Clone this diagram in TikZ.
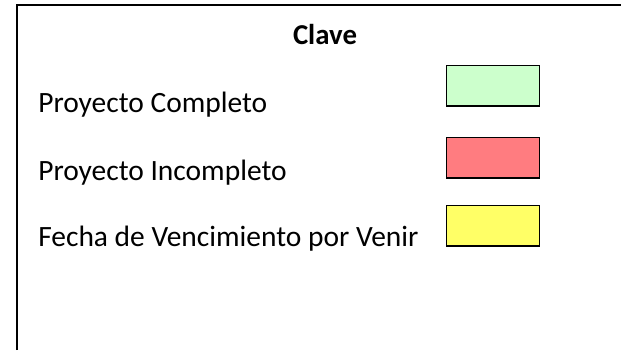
\documentclass[tikz,border=0pt]{standalone}
\usepackage{fontspec}
\setmainfont{Carlito}
\usetikzlibrary{positioning}

\definecolor{compgreen}{HTML}{CCFFCC}
\definecolor{incred}{HTML}{FF7C80}
\definecolor{duewhite}{HTML}{FFFF66}

\tikzset{
  keytext/.style={anchor=base west, inner sep=0pt, font=\fontsize{22.1}{26}\selectfont},
  keybox/.style={draw=black, line width=1.3pt, minimum width=69.75pt, minimum height=30.25pt, inner sep=0pt, anchor=north west}
}

\begin{document}
\begin{tikzpicture}[x=0.75pt, y=-0.75pt]
      \useasboundingbox (0,0) rectangle (621,350);
      \draw[line width=1.4pt] (17,350) -- (17,5) -- (621,5);
      \node[anchor=base, inner sep=0pt, font=\bfseries\fontsize{21.6}{26}\selectfont] (title) at (325,44) {Clave};
      \node[keytext] (comp) at (38,112.7) {Proyecto Completo};
      \node[keytext] (inc) at (38,180.7) {Proyecto Incompleto};
      \node[keytext] (due) at (38,246.7) {Fecha de Vencimiento por Venir};
      \node[keybox, fill=compgreen] (compbox) at (445.7,64.7) {};
      \node[keybox, fill=incred] (incbox) at (445.7,136.7) {};
      \node[keybox, fill=duewhite] (duebox) at (445.7,204.7) {};
    \end{tikzpicture}
\end{document}
